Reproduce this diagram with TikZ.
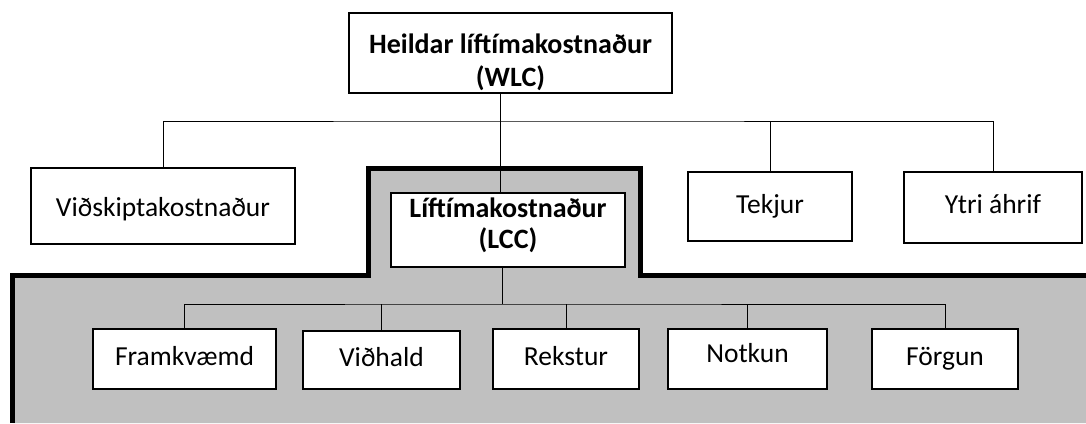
\documentclass[tikz,border=0pt]{standalone}
\usepackage{fontspec}
\setmainfont{Carlito}
\usetikzlibrary{positioning}
\definecolor{lccgray}{RGB}{192,192,192}
\tikzstyle{rect} = [rectangle, 
			draw, 
			fill = white,
			line width = 1.2pt,
			text centered, 
			text height = 12pt,
			text depth = 0pt,
			font = \fontsize{27.5}{33}\selectfont]
\tikzstyle{brect} = [rectangle, 
			draw, 
			fill = white,
			line width = 1.2pt,
			align = center,
			inner ysep = 0pt,
			text depth = 0pt,
			font = \fontsize{28}{33.5}\selectfont\bfseries]
\tikzstyle{link} = [draw, line width = 1pt]

\begin{document}
\begin{tikzpicture}[x=1pt, y=-1pt]
	\useasboundingbox (0,0) rectangle (1086,423);
	% the LCC area
	\fill [lccgray] (12.5,423) -- (12.5,275) -- (368.5,275) -- (368.5,168) -- (640.5,168) -- (640.5,275) -- (1086,275) -- (1086,423) -- cycle;
	\draw [line width = 5pt] (12.5,423) -- (12.5,275) -- (368.5,275) -- (368.5,168) -- (640.5,168) -- (640.5,275) -- (1086,275);
	% top level
	\node [brect, minimum width=323pt, minimum height=80pt, text height=67.4pt] (wlc) at (510.5,53) {Heildar líftímakostnaður\\(WLC)};
	\node [rect, minimum width=264pt, minimum height=76pt, text height=20pt] (vidskipti) at (163,206) {Viðskiptakostnaður};
	\node [brect, minimum width=234pt, minimum height=74pt, text height=37.4pt, font=\fontsize{28}{31.7}\selectfont\bfseries] (lcc) at (508,230) {Líftímakostnaður\\(LCC)};
	\node [rect, minimum width=164pt, minimum height=69pt, text height=14pt] (tekjur) at (770,206.5) {Tekjur};
	\node [rect, minimum width=178pt, minimum height=71pt, text height=11pt] (ytri) at (993,207.5) {Ytri áhrif};
	% LCC parts
	\node [rect, minimum width=183pt, minimum height=60pt] (framkvaemd) at (184.5,359) {Framkvæmd};
	\node [rect, minimum width=157pt, minimum height=58pt] (vidhald) at (381.5,360) {Viðhald};
	\node [rect, minimum width=146pt, minimum height=60pt] (rekstur) at (566,359) {Rekstur};
	\node [rect, minimum width=159pt, minimum height=60pt, text height=6pt] (notkun) at (747.5,359) {Notkun};
	\node [rect, minimum width=146pt, minimum height=60pt] (forgun) at (945,359) {Förgun};
	\coordinate (topbus) at (500,121);
	\coordinate (lowbus) at (502,304);
	\draw [link] (wlc.south -| topbus) -- (topbus);
	\draw [link] (topbus) -- (lcc.north -| topbus);
	\draw [link] (vidskipti.north) |- (topbus) -| (ytri.north);
	\draw [link] (tekjur.north) -- (tekjur.north |- topbus);
	\draw [link] (lcc.south -| lowbus) -- (lowbus);
	\draw [link] (framkvaemd.north) |- (lowbus) -| (forgun.north);
	\draw [link] (vidhald.north) -- (vidhald.north |- lowbus);
	\draw [link] (rekstur.north) -- (rekstur.north |- lowbus);
	\draw [link] (notkun.north) -- (notkun.north |- lowbus);
\end{tikzpicture}
\end{document}
